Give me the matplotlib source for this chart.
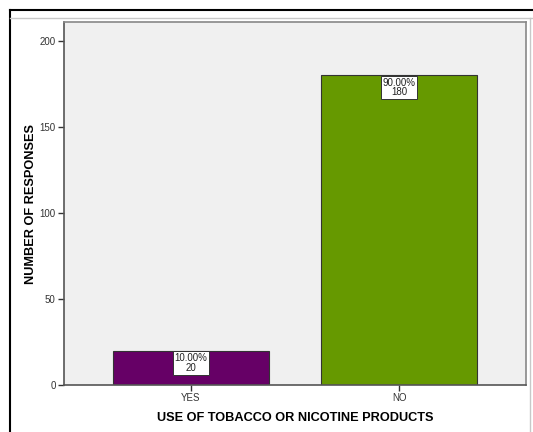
import matplotlib
matplotlib.use("Agg")
import matplotlib.pyplot as plt
from matplotlib.lines import Line2D

plt.rcParams['font.family'] = ['Liberation Sans', 'DejaVu Sans']

# data
categories = ["YES", "NO"]
counts = [20, 180]
percents = ["10.00%", "90.00%"]
bar_colors = ["#660066", "#669900"]

fig = plt.figure(figsize=(5.33, 4.32), dpi=100)
ax = fig.add_axes([64 / 533, 1 - 385 / 432, (526 - 64) / 533, (385 - 22) / 432])

x = list(range(len(categories)))
bars = ax.bar(x, counts, width=0.75, color=bar_colors, edgecolor="#333333", linewidth=0.8, zorder=2)

# white value boxes at the top of each bar
for xi, c, p in zip(x, counts, percents):
    ax.annotate(f"{p}\n{c}", xy=(xi, c), xytext=(0, -2), textcoords="offset points",
                ha="center", va="top", fontsize=7, color="#222222", linespacing=0.9,
                bbox=dict(boxstyle="square,pad=0.2", fc="white", ec="#333333", lw=0.7),
                zorder=3)

ax.set_xlim(-0.61, 1.61)
ax.set_ylim(0, 211)
ax.set_facecolor("#f0f0f0")
ax.set_yticks([0, 50, 100, 150, 200])
ax.set_xticks(x)
ax.set_xticklabels(categories)
ax.tick_params(axis="both", direction="out", length=4, width=1, color="#333333",
               labelsize=7, labelcolor="#333333", pad=2)

for side in ["top", "right"]:
    ax.spines[side].set_color("#888888")
    ax.spines[side].set_linewidth(1.2)
for side in ["left", "bottom"]:
    ax.spines[side].set_color("#555555")
    ax.spines[side].set_linewidth(1.2)

ax.set_ylabel("NUMBER OF RESPONSES", fontsize=9.2, fontweight="bold")
ax.set_xlabel("USE OF TOBACCO OR NICOTINE PRODUCTS", fontsize=9.2, fontweight="bold", labelpad=6)
ax.yaxis.set_label_coords(-27 / 462, 0.5)

# outer frame lines of the pasted output window
fig.add_artist(Line2D([9.5 / 533, 9.5 / 533], [0, 1 - 10 / 432], color="black", lw=1.5, transform=fig.transFigure))
fig.add_artist(Line2D([9.5 / 533, 1], [1 - 10 / 432, 1 - 10 / 432], color="black", lw=1.5, transform=fig.transFigure))
fig.add_artist(Line2D([10 / 533, 1], [1 - 18 / 432, 1 - 18 / 432], color="#c8c8c8", lw=1, transform=fig.transFigure))
fig.add_artist(Line2D([530 / 533, 530 / 533], [0, 1 - 18 / 432], color="#c8c8c8", lw=1, transform=fig.transFigure))

fig.savefig("out.png", dpi=100)
